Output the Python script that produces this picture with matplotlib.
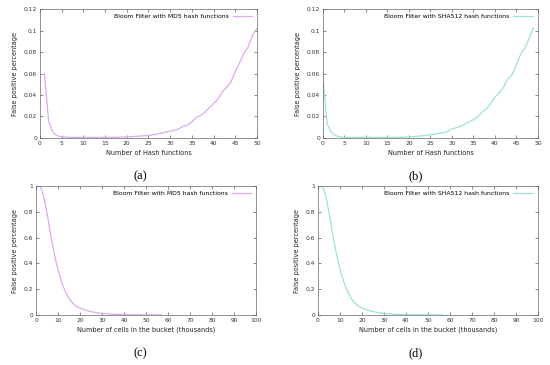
import numpy as np
import matplotlib
matplotlib.use("Agg")
import matplotlib.pyplot as plt

plt.rcParams['font.family'] = ['DejaVu Sans']

# hash function count experiments (a), (b)
md5_k = list(range(1, 51))
md5_fp = [0.060, 0.015, 0.005, 0.002, 0.001, 0.0008, 0.0006, 0.0005, 0.0005, 0.0005,
          0.0005, 0.0005, 0.0005, 0.0005, 0.0005, 0.0006, 0.0006, 0.0007, 0.0008, 0.001,
          0.0012, 0.0015, 0.0018, 0.002, 0.0023, 0.003, 0.0038, 0.0045, 0.0055, 0.0063,
          0.0072, 0.0085, 0.011, 0.012, 0.015, 0.019, 0.021, 0.024, 0.028, 0.032,
          0.036, 0.043, 0.047, 0.052, 0.062, 0.070, 0.079, 0.085, 0.096, 0.102]

sha_k = list(range(0, 50))
sha_fp = [0.058, 0.013, 0.005, 0.002, 0.001, 0.0006, 0.0005, 0.0005, 0.0005, 0.0005,
          0.0005, 0.0005, 0.0005, 0.0005, 0.0005, 0.0005, 0.0005, 0.0006, 0.0007, 0.0008,
          0.001, 0.0012, 0.0016, 0.002, 0.0025, 0.003, 0.0035, 0.0045, 0.005, 0.006,
          0.0085, 0.0095, 0.011, 0.013, 0.015, 0.017, 0.020, 0.024, 0.027, 0.032,
          0.038, 0.042, 0.047, 0.055, 0.059, 0.068, 0.078, 0.084, 0.093, 0.103]

# bucket size experiments (c), (d), thousands of cells
cells = [1, 2, 3, 4, 5, 6, 7, 8, 9, 10, 11, 12, 13, 14, 15, 16, 17, 18, 19, 20,
         22, 25, 28, 30, 35, 40, 45, 50, 55, 57]
md5_cells_fp = [1.0, 0.995, 0.95, 0.88, 0.79, 0.69, 0.59, 0.50, 0.42, 0.35,
                0.29, 0.24, 0.195, 0.16, 0.13, 0.105, 0.087, 0.072, 0.062, 0.054,
                0.040, 0.026, 0.016, 0.012, 0.006, 0.003, 0.0015, 0.001, 0.0005, 0.0003]
sha_cells_fp = [1.0, 0.995, 0.96, 0.89, 0.80, 0.70, 0.60, 0.51, 0.43, 0.36,
                0.30, 0.245, 0.20, 0.165, 0.135, 0.11, 0.09, 0.075, 0.064, 0.055,
                0.041, 0.027, 0.017, 0.012, 0.006, 0.003, 0.0015, 0.001, 0.0005, 0.0003]

purple = '#dcaaf2'
teal = '#98e6cc'

fig = plt.figure(figsize=(5.5, 3.65), dpi=100)

panels = [
    # rect, x, y, color, label, xlim, xticks, ylim, yticks, ylabels, xlabel
    ([0.0727, 0.622, 0.3945, 0.353], md5_k, md5_fp, purple, 'Bloom Filter with MD5 hash functions',
     (0, 50), range(0, 51, 5), (0, 0.12), [0, 0.02, 0.04, 0.06, 0.08, 0.1, 0.12],
     ['0', '0.02', '0.04', '0.06', '0.08', '0.1', '0.12'], 'Number of Hash functions'),
    ([0.587, 0.622, 0.391, 0.353], sha_k, sha_fp, teal, 'Bloom Filter with SHA512 hash functions',
     (0, 50), range(0, 51, 5), (0, 0.12), [0, 0.02, 0.04, 0.06, 0.08, 0.1, 0.12],
     ['0', '0.02', '0.04', '0.06', '0.08', '0.1', '0.12'], 'Number of Hash functions'),
    ([0.0655, 0.137, 0.4, 0.353], cells, md5_cells_fp, purple, 'Bloom Filter with MD5 hash functions',
     (0, 100), range(0, 101, 10), (0, 1), [0, 0.2, 0.4, 0.6, 0.8, 1],
     ['0', '0.2', '0.4', '0.6', '0.8', '1'], 'Number of cells in the bucket (thousands)'),
    ([0.578, 0.137, 0.4, 0.353], cells, sha_cells_fp, teal, 'Bloom Filter with SHA512 hash functions',
     (0, 100), range(0, 101, 10), (0, 1), [0, 0.2, 0.4, 0.6, 0.8, 1],
     ['0', '0.2', '0.4', '0.6', '0.8', '1'], 'Number of cells in the bucket (thousands)'),
]

for rect, xs, ys, col, lab, xl, xt, yl, yt, ytl, xlab in panels:
    ax = fig.add_axes(rect)
    ax.plot(xs, ys, color=col, lw=0.9, label=lab)
    ax.set_xlim(*xl)
    ax.set_ylim(*yl)
    ax.set_xticks(list(xt))
    ax.set_yticks(yt)
    ax.set_yticklabels(ytl)
    ax.tick_params(direction='in', length=2, width=0.4, labelsize=4.3,
                   top=True, right=True, pad=2, colors='#333333')
    for s in ax.spines.values():
        s.set_linewidth(0.5)
        s.set_color('#666666')
    ax.set_xlabel(xlab, fontsize=4.7, labelpad=3, color='#222222')
    ax.set_ylabel('False positive percentage', fontsize=4.7, labelpad=4, color='#222222')
    ax.legend(loc='upper right', fontsize=4.4, frameon=False, markerfirst=False,
              handlelength=3.2, borderaxespad=0.4, handletextpad=0.6)

caps = [('(a)', 0.255, 0.518), ('(b)', 0.755, 0.518), ('(c)', 0.255, 0.033), ('(d)', 0.755, 0.033)]
for txt, cx, cy in caps:
    fig.text(cx, cy, txt, ha='center', va='center', fontsize=9,
             family=['Liberation Serif', 'DejaVu Serif'])

fig.savefig('out.png', dpi=100)
